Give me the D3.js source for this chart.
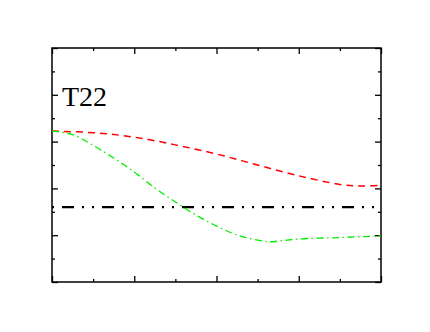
<!DOCTYPE html>
<html><head><meta charset="utf-8">
<script src="https://cdn.jsdelivr.net/npm/d3@7"></script>
<style>html,body{margin:0;padding:0;background:#fff;}svg{display:block;}</style>
</head><body>
<svg id="chart" width="430" height="332"></svg>
<script>
const label = "T22";
const redX = [0, 1, 2, 3, 4, 5, 6, 7, 7.5, 8];
const redY = [0.645, 0.638, 0.619, 0.586, 0.547, 0.500, 0.454, 0.417, 0.410, 0.414];
const greenX = [0, 0.5, 1, 1.5, 2, 2.5, 3, 3.5, 4, 4.5, 5, 5.3, 5.6, 6, 7, 8];
const greenY = [0.645, 0.630, 0.584, 0.530, 0.470, 0.402, 0.342, 0.286, 0.239, 0.201, 0.179, 0.172, 0.177, 0.184, 0.190, 0.197];
const refY = 0.32;
const xTicks = [0, 1, 2, 3, 4, 5, 6, 7, 8];
const yTicks = [0, 0.1, 0.2, 0.3, 0.4, 0.5, 0.6, 0.7, 0.8, 0.9, 1.0];

const svg = d3.select("#chart");
const L = 52, R = 381, T = 48, B = 282;
const x = d3.scaleLinear().domain([0, 8]).range([L, R]);
const y = d3.scaleLinear().domain([0, 1]).range([B, T]);

const isMajorX = d => Math.round(d) % 2 === 0;
const isMajorY = d => Math.round(d * 10) % 2 === 0;

function ticks(axisGen, scale, values, majorFn, tr) {
  const g = svg.append("g").attr("transform", tr);
  values.forEach(v => {
    const a = axisGen(scale).tickValues([v]).tickFormat("").tickSizeOuter(0).tickSizeInner(majorFn(v) ? 6 : 3);
    g.append("g").call(a).call(s => s.select(".domain").remove())
      .selectAll("line").attr("stroke", "#000").attr("stroke-width", 1.3);
  });
}
// inward ticks
ticks(d3.axisTop, x, xTicks, isMajorX, `translate(0,${B})`);
ticks(d3.axisBottom, x, xTicks, isMajorX, `translate(0,${T})`);
ticks(d3.axisRight, y, yTicks, isMajorY, `translate(${L},0)`);
ticks(d3.axisLeft, y, yTicks, isMajorY, `translate(${R},0)`);

svg.append("rect").attr("x", L).attr("y", T).attr("width", R - L).attr("height", B - T)
  .attr("fill", "none").attr("stroke", "#000").attr("stroke-width", 1.5);

const line = d3.line().x(d => x(d[0])).y(d => y(d[1])).curve(d3.curveCatmullRom.alpha(0.5));

svg.append("line").attr("x1", x(0)).attr("x2", x(8)).attr("y1", y(refY)).attr("y2", y(refY))
  .attr("stroke", "#000").attr("stroke-width", 2.2)
  .attr("stroke-dasharray", "12,8,2,8,2,8").attr("stroke-dashoffset", 30);

svg.append("path").datum(redX.map((v, i) => [v, redY[i]])).attr("d", line)
  .attr("fill", "none").attr("stroke", "#ff0000").attr("stroke-width", 1.5)
  .attr("stroke-dasharray", "7,5");

svg.append("path").datum(greenX.map((v, i) => [v, greenY[i]])).attr("d", line)
  .attr("fill", "none").attr("stroke", "#00ee00").attr("stroke-width", 1.3)
  .attr("stroke-dasharray", "7,3.5,1.5,3.5");

svg.append("text").attr("x", 62).attr("y", 106).text(label)
  .attr("font-family", "'Liberation Serif', 'Times New Roman', serif").attr("font-size", 28).attr("fill", "#000");
</script>
</body></html>
